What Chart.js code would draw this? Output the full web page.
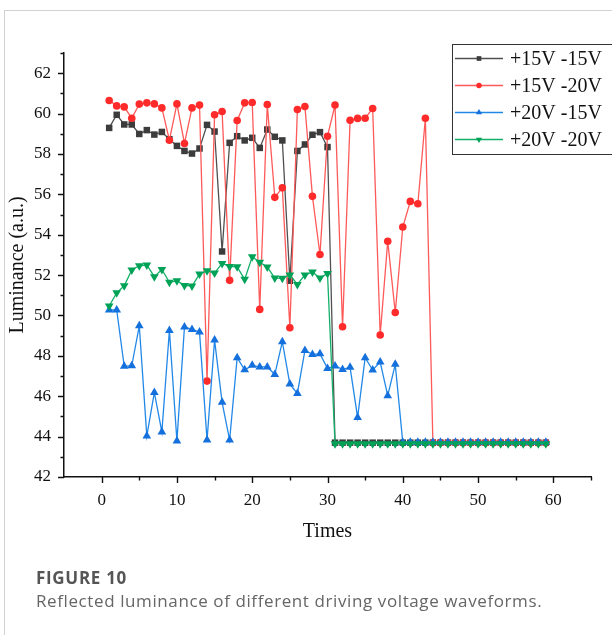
<!DOCTYPE html>
<html><head><meta charset="utf-8">
<script src="https://cdn.jsdelivr.net/npm/chart.js@4/dist/chart.umd.min.js"></script>
<style>
html,body{margin:0;padding:0;background:#fff;}
#wrap{position:relative;width:612px;height:635px;overflow:hidden;}
#frame{position:absolute;left:4px;top:10px;width:700px;height:700px;border-top:1px solid #d2d2d2;border-left:1px solid #d2d2d2;}
canvas{position:absolute;left:0;top:0;}
.cap1{position:absolute;left:36px;top:566px;font-family:"Open Sans";font-weight:bold;font-size:17px;color:#555;letter-spacing:0.7px;white-space:nowrap;}
.cap2{position:absolute;left:36px;top:589px;font-family:"Open Sans";font-size:17px;color:#666;letter-spacing:0.6px;white-space:nowrap;}
</style></head>
<body>
<div id="wrap">
<div id="frame"></div>
<canvas id="c" width="612" height="635"></canvas>
<div class="cap1">FIGURE 10</div>
<div class="cap2">Reflected luminance of different driving voltage waveforms.</div>
</div>
<script>
const times = [1,2,3,4,5,6,7,8,9,10,11,12,13,14,15,16,17,18,19,20,21,22,23,24,25,26,27,28,29,30,
  31,32,33,34,35,36,37,38,39,40,41,42,43,44,45,46,47,48,49,50,51,52,53,54,55,56,57,58,59];

const seriesNames = ["+15V -15V", "+15V -20V", "+20V -15V", "+20V -20V"];

const p15m15 = [59.29,59.94,59.46,59.46,58.99,59.18,58.96,59.09,58.73,58.40,
  58.15,58.02,58.27,59.44,59.11,53.17,58.55,58.88,58.67,58.80,
  58.30,59.21,58.85,58.67,51.72,58.15,58.47,58.95,59.08,58.34,
  43.70,43.70,43.70,43.70,43.70,43.70,43.70,43.70,43.70,43.70,
  43.70,43.70,43.70,43.70,43.70,43.70,43.70,43.70,43.70,43.70,
  43.70,43.70,43.70,43.70,43.70,43.70,43.70,43.70,43.70];

const p15m20 = [60.65,60.38,60.33,59.77,60.47,60.53,60.48,60.28,58.68,60.48,
  58.52,60.28,60.42,46.75,59.94,60.10,51.74,59.66,60.53,60.55,
  50.30,60.45,55.85,56.32,49.39,60.20,60.35,55.90,53.02,58.88,
  60.42,49.44,59.67,59.76,59.77,60.25,49.03,53.68,50.15,54.38,
  55.65,55.53,59.77,43.70,43.70,43.70,43.70,43.70,43.70,43.70,
  43.70,43.70,43.70,43.70,43.70,43.70,43.70,43.70,43.70];

const p20m15 = [50.27,50.27,47.48,47.51,49.49,44.03,46.19,44.23,49.26,43.78,
  49.43,49.31,49.18,43.83,48.78,45.70,43.83,47.91,47.31,47.53,
  47.45,47.45,47.08,48.70,46.60,46.14,48.27,48.07,48.10,47.38,
  47.50,47.33,47.43,44.95,47.91,47.30,47.69,46.03,47.58,43.72,
  43.72,43.72,43.72,43.72,43.72,43.72,43.72,43.72,43.72,43.72,
  43.72,43.72,43.72,43.72,43.72,43.72,43.72,43.72,43.72];

const p20m20 = [50.47,51.12,51.47,52.25,52.46,52.50,51.92,52.28,51.64,51.72,
  51.49,51.46,52.05,52.21,52.10,52.58,52.43,52.41,51.79,52.91,
  52.64,52.40,51.85,51.84,52.01,51.54,52.01,52.15,51.85,52.08,
  43.65,43.65,43.65,43.65,43.65,43.65,43.65,43.65,43.65,43.65,
  43.65,43.65,43.65,43.65,43.65,43.65,43.65,43.65,43.65,43.65,
  43.65,43.65,43.65,43.65,43.65,43.65,43.65,43.65,43.65];

const xTitle = "Times";
const yTitle = "Luminance (a.u.)";
const xMin = -5, xMax = 65, yMin = 42, yMax = 63;

const styles = [
  {line:'#505050', pt:'#3c3c3c', shape:'rect', r:4.6, rot:0, order:3},
  {line:'#ff5a5a', pt:'#ff2b2b', shape:'circle', r:3.8, rot:0, order:2},
  {line:'#2288e8', pt:'#1470dc', shape:'triangle', r:5, rot:0, order:1},
  {line:'#13b06a', pt:'#00a257', shape:'triangle', r:5, rot:180, order:0}
];
const allSeries = [p15m15, p15m20, p20m15, p20m20];

const serif = "'Liberation Serif', 'Times New Roman', serif";
Chart.defaults.font.family = serif;

const datasets = allSeries.map((s, i) => ({
  label: seriesNames[i],
  data: times.map((t, k) => ({x: t, y: s[k]})),
  borderColor: styles[i].line,
  backgroundColor: styles[i].pt,
  pointBackgroundColor: styles[i].pt,
  pointBorderColor: styles[i].pt,
  pointBorderWidth: 0,
  pointStyle: styles[i].shape,
  pointRotation: styles[i].rot,
  pointRadius: styles[i].r,
  borderWidth: 1.3,
  tension: 0,
  order: styles[i].order
}));

const decor = {
  id: 'decor',
  afterDraw(chart) {
    const {ctx, chartArea: a, scales: {x, y}} = chart;
    ctx.save();
    ctx.strokeStyle = '#111';
    ctx.lineWidth = 1.4;
    ctx.beginPath();
    for (let v = xMin + 5; v <= xMax; v += 5) {
      const px = Math.round(x.getPixelForValue(v)) + 0.5;
      const len = (v % 10 === 0) ? 6 : 3.5;
      ctx.moveTo(px, a.bottom); ctx.lineTo(px, a.bottom + len);
    }
    for (let v = yMin; v <= yMax; v += 1) {
      const py = Math.round(y.getPixelForValue(v)) + 0.5;
      const len = (v % 2 === 0) ? 6 : 3.5;
      ctx.moveTo(a.left, py); ctx.lineTo(a.left - len, py);
    }
    ctx.stroke();
    ctx.fillStyle = '#111';
    ctx.font = '20px ' + serif;
    ctx.textAlign = 'center';
    ctx.textBaseline = 'middle';
    ctx.fillText(xTitle, (a.left + a.right) / 2, 532);
    ctx.save();
    ctx.translate(18, (a.top + a.bottom) / 2);
    ctx.rotate(-Math.PI / 2);
    ctx.fillText(yTitle, 0, 0);
    ctx.restore();
    const bx = 452.5, by = 44.5;
    ctx.fillStyle = '#fff';
    ctx.fillRect(bx, by, 200, 110);
    ctx.strokeStyle = '#333';
    ctx.lineWidth = 1;
    ctx.strokeRect(bx, by, 200, 110);
    chart.data.datasets.forEach((ds, i) => {
      const ly = 58.5 + i * 27;
      ctx.strokeStyle = ds.borderColor;
      ctx.lineWidth = 1.3;
      ctx.beginPath(); ctx.moveTo(455, ly); ctx.lineTo(503, ly); ctx.stroke();
      ctx.fillStyle = ds.pointBackgroundColor;
      ctx.strokeStyle = ds.pointBackgroundColor;
      Chart.helpers.drawPoint(ctx, {pointStyle: ds.pointStyle, rotation: ds.pointRotation, radius: ds.pointRadius * 0.72, borderWidth: 0}, 479, ly);
      ctx.fillStyle = '#111';
      ctx.font = '20px ' + serif;
      ctx.textAlign = 'left';
      ctx.textBaseline = 'middle';
      ctx.fillText(ds.label, 510, ly + 1);
    });
    ctx.restore();
  }
};

new Chart(document.getElementById('c'), {
  type: 'line',
  data: { datasets },
  options: {
    responsive: false,
    animation: false,
    devicePixelRatio: 1,
    layout: { padding: { left: 0, top: 53, right: 21, bottom: 0 } },
    plugins: { legend: { display: false }, tooltip: { enabled: false } },
    scales: {
      x: {
        type: 'linear', min: xMin, max: xMax,
        afterFit: s => { s.height = 158; },
        grid: { drawOnChartArea: false, drawTicks: false },
        border: { display: true, color: '#111', width: 1.5 },
        ticks: {
          stepSize: 5, autoSkip: false, maxRotation: 0, padding: 13,
          color: '#111', font: { family: serif, size: 17 },
          callback: v => (v % 10 === 0 && v >= 0 && v <= 60) ? String(v) : ''
        }
      },
      y: {
        type: 'linear', min: yMin, max: yMax,
        afterFit: s => { s.width = 64; },
        grid: { drawOnChartArea: false, drawTicks: false },
        border: { display: true, color: '#111', width: 1.5 },
        ticks: {
          stepSize: 1, autoSkip: false, padding: 13,
          color: '#111', font: { family: serif, size: 17 },
          callback: v => (v % 2 === 0) ? String(v) : ''
        }
      }
    }
  },
  plugins: [decor]
});
</script>
</body></html>
